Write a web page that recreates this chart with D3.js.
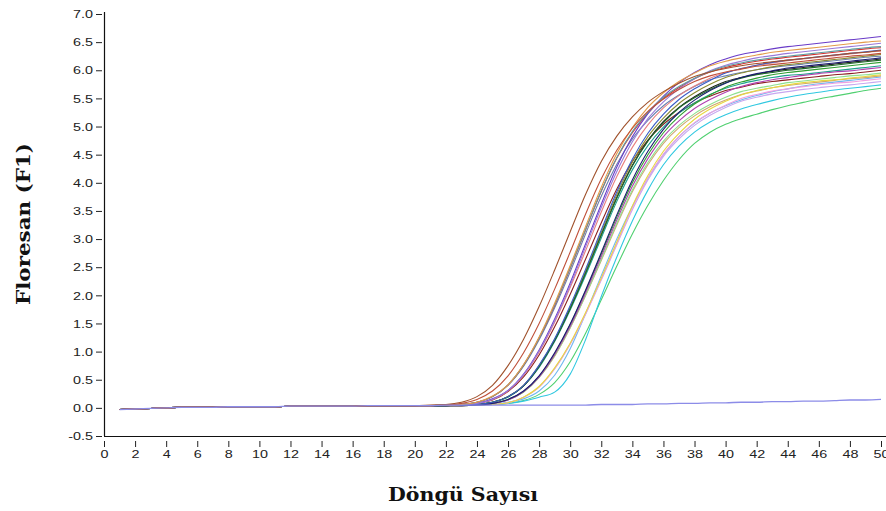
<!DOCTYPE html>
<html>
<head>
<meta charset="utf-8">
<script src="https://cdn.jsdelivr.net/npm/d3@7"></script>
<style>
  html, body { margin: 0; padding: 0; background: #fff; }
  svg { display: block; }
</style>
</head>
<body>
<svg id="chart" width="886" height="511"></svg>
<script>
// Real-time PCR amplification curves: fluorescence (F1) per cycle, cycles 1–50.

// Cycle numbers and axis ticks
const cycles = d3.range(1, 51);
const xTicks = [0, 2, 4, 6, 8, 10, 12, 14, 16, 18, 20, 22, 24, 26, 28, 30, 32, 34, 36, 38, 40, 42, 44, 46, 48, 50];
const yTicks = [-0.5, 0.0, 0.5, 1.0, 1.5, 2.0, 2.5, 3.0, 3.5, 4.0, 4.5, 5.0, 5.5, 6.0, 6.5, 7.0];

// Shared baseline readings, cycles 1–19 (all wells overlap here)
const baseline = [-0.03, -0.02, -0.01, 0.00, 0.01, 0.01, 0.01, 0.02, 0.02, 0.02, 0.02, 0.03, 0.03, 0.03, 0.03, 0.03, 0.04, 0.04, 0.04];

// Per-well readings, cycles 20–50
const s01 = [0.04,0.05,0.06,0.10,0.20,0.40,0.75,1.22,1.80,2.45,3.13,3.80,4.38,4.83,5.17,5.43,5.62,5.77,5.89,5.97,6.03,6.08,6.12,6.15,6.18,6.21,6.24,6.27,6.30,6.32,6.35];
const s02 = [0.04,0.04,0.05,0.08,0.15,0.30,0.57,0.98,1.50,2.11,2.77,3.45,4.07,4.58,4.97,5.27,5.49,5.66,5.80,5.90,5.97,6.02,6.07,6.10,6.13,6.16,6.19,6.22,6.25,6.27,6.30];
const s03 = [0.04,0.04,0.05,0.06,0.10,0.21,0.41,0.77,1.26,1.86,2.53,3.23,3.92,4.52,4.98,5.34,5.60,5.80,5.95,6.08,6.16,6.22,6.27,6.32,6.35,6.38,6.41,6.44,6.47,6.50,6.52];
const s04 = [0.04,0.04,0.05,0.06,0.10,0.20,0.41,0.76,1.24,1.83,2.49,3.18,3.86,4.45,4.91,5.25,5.52,5.71,5.86,5.98,6.07,6.13,6.18,6.22,6.25,6.28,6.31,6.34,6.37,6.40,6.42];
const s05 = [0.04,0.04,0.05,0.06,0.08,0.15,0.31,0.59,1.01,1.55,2.18,2.87,3.56,4.20,4.73,5.14,5.44,5.67,5.85,5.99,6.09,6.16,6.22,6.26,6.30,6.33,6.36,6.39,6.42,6.45,6.48];
const s06 = [0.04,0.04,0.05,0.06,0.08,0.16,0.31,0.60,1.03,1.58,2.22,2.92,3.62,4.28,4.82,5.23,5.54,5.78,5.96,6.10,6.20,6.28,6.33,6.38,6.42,6.45,6.48,6.51,6.54,6.57,6.60];
const s07 = [0.04,0.04,0.04,0.05,0.06,0.10,0.20,0.40,0.76,1.23,1.82,2.47,3.16,3.84,4.42,4.88,5.22,5.48,5.67,5.82,5.95,6.03,6.09,6.14,6.18,6.21,6.24,6.27,6.30,6.33,6.36];
const s08 = [0.04,0.04,0.04,0.04,0.05,0.08,0.15,0.30,0.57,0.98,1.49,2.10,2.76,3.43,4.05,4.56,4.95,5.25,5.47,5.64,5.77,5.87,5.94,5.99,6.04,6.07,6.10,6.13,6.16,6.19,6.22];
const s09 = [0.04,0.04,0.05,0.06,0.08,0.15,0.30,0.58,0.99,1.52,2.14,2.80,3.48,4.11,4.63,5.03,5.33,5.55,5.72,5.86,5.96,6.03,6.09,6.13,6.17,6.20,6.23,6.26,6.29,6.32,6.34];
const s10 = [0.04,0.04,0.04,0.05,0.06,0.10,0.20,0.39,0.74,1.20,1.77,2.40,3.07,3.73,4.30,4.74,5.07,5.33,5.51,5.66,5.78,5.86,5.92,5.96,6.00,6.03,6.06,6.09,6.12,6.15,6.18];
const s11 = [0.04,0.04,0.04,0.05,0.06,0.10,0.20,0.40,0.75,1.22,1.79,2.44,3.12,3.79,4.37,4.82,5.15,5.41,5.60,5.75,5.87,5.95,6.01,6.06,6.10,6.13,6.16,6.19,6.22,6.25,6.28];
const s12 = [0.04,0.04,0.04,0.04,0.05,0.08,0.14,0.29,0.55,0.95,1.45,2.05,2.69,3.34,3.94,4.43,4.82,5.10,5.32,5.48,5.61,5.71,5.78,5.83,5.87,5.91,5.94,5.97,5.99,6.02,6.05];
const s13 = [0.04,0.04,0.04,0.05,0.06,0.10,0.20,0.39,0.74,1.20,1.77,2.41,3.08,3.74,4.31,4.75,5.09,5.34,5.53,5.68,5.80,5.87,5.93,5.98,6.02,6.05,6.08,6.11,6.14,6.17,6.20];
const s14 = [0.04,0.04,0.04,0.04,0.05,0.08,0.15,0.29,0.56,0.96,1.48,2.08,2.73,3.39,4.00,4.50,4.89,5.18,5.40,5.56,5.70,5.79,5.86,5.92,5.96,5.99,6.02,6.05,6.08,6.11,6.14];
const s15 = [0.04,0.04,0.05,0.06,0.10,0.20,0.41,0.76,1.24,1.82,2.48,3.17,3.85,4.44,4.89,5.24,5.50,5.69,5.85,5.97,6.05,6.11,6.16,6.20,6.23,6.26,6.29,6.32,6.35,6.38,6.40];
const s16 = [0.04,0.04,0.05,0.06,0.10,0.20,0.40,0.74,1.21,1.78,2.42,3.10,3.76,4.33,4.78,5.11,5.37,5.56,5.71,5.83,5.90,5.96,6.01,6.05,6.08,6.11,6.14,6.17,6.20,6.23,6.25];
const s17 = [0.04,0.04,0.04,0.04,0.05,0.08,0.14,0.28,0.54,0.93,1.43,2.01,2.64,3.28,3.87,4.36,4.74,5.02,5.23,5.39,5.52,5.62,5.68,5.73,5.78,5.81,5.84,5.87,5.90,5.92,5.95];
const s18 = [0.04,0.04,0.04,0.04,0.05,0.06,0.09,0.19,0.38,0.71,1.15,1.70,2.31,2.95,3.59,4.13,4.56,4.88,5.13,5.31,5.45,5.56,5.64,5.69,5.74,5.78,5.81,5.83,5.86,5.89,5.92];
const s19 = [0.04,0.04,0.04,0.04,0.05,0.08,0.14,0.28,0.54,0.92,1.42,2.00,2.62,3.25,3.84,4.32,4.70,4.98,5.19,5.35,5.47,5.57,5.63,5.69,5.73,5.76,5.79,5.82,5.85,5.87,5.90];
const s20 = [0.04,0.04,0.04,0.04,0.05,0.06,0.09,0.19,0.37,0.70,1.14,1.68,2.29,2.92,3.55,4.09,4.51,4.82,5.07,5.24,5.38,5.50,5.57,5.63,5.67,5.71,5.74,5.77,5.79,5.82,5.85];
const s21 = [0.04,0.04,0.04,0.04,0.05,0.06,0.09,0.19,0.37,0.69,1.13,1.67,2.27,2.90,3.52,4.05,4.47,4.78,5.02,5.20,5.34,5.45,5.52,5.58,5.62,5.66,5.69,5.72,5.74,5.77,5.80];
const s22 = [0.04,0.04,0.04,0.05,0.05,0.06,0.08,0.12,0.19,0.28,0.60,1.22,1.98,2.68,3.32,3.87,4.32,4.65,4.90,5.08,5.21,5.31,5.39,5.46,5.52,5.57,5.61,5.65,5.68,5.71,5.74];
const s23 = [0.04,0.04,0.04,0.05,0.05,0.07,0.10,0.16,0.30,0.58,1.05,1.68,2.35,3.00,3.58,4.08,4.50,4.82,5.06,5.24,5.37,5.47,5.55,5.62,5.67,5.72,5.76,5.79,5.82,5.85,5.88];
const s24 = [0.04,0.04,0.04,0.05,0.05,0.06,0.08,0.13,0.24,0.45,0.82,1.33,1.92,2.52,3.09,3.60,4.04,4.41,4.70,4.90,5.04,5.14,5.22,5.30,5.37,5.43,5.49,5.54,5.59,5.64,5.68];
const s25 = [0.04,0.04,0.04,0.05,0.06,0.10,0.19,0.39,0.72,1.18,1.74,2.36,3.02,3.67,4.23,4.66,4.99,5.24,5.42,5.57,5.68,5.76,5.82,5.87,5.91,5.93,5.96,5.99,6.02,6.05,6.08];
const s26 = [0.04,0.04,0.04,0.05,0.08,0.14,0.29,0.55,0.94,1.44,2.02,2.65,3.29,3.89,4.38,4.76,5.04,5.25,5.42,5.54,5.64,5.70,5.76,5.80,5.83,5.86,5.89,5.92,5.94,5.97,6.00];

// Negative control, cycles 20–50
const ncRise = [0.04,0.04,0.05,0.05,0.05,0.05,0.05,0.05,0.05,0.05,0.05,0.05,0.06,0.06,0.06,0.07,0.07,0.08,0.08,0.09,0.09,0.10,0.10,0.11,0.11,0.12,0.12,0.13,0.14,0.14,0.15];

// Well colours (same order as the wells list)
const palette = [
  "#a0522d", "#c0503a", "#e39b4a", "#5f9ea0", "#9a7ad8", "#6a3cc8", "#3a5cc8",
  "#1c1c70", "#e88080", "#1f6b2a", "#8a8a30", "#b040b0", "#202020", "#30a030",
  "#d83030", "#6a80b0", "#8ee08e", "#e8d840", "#d0a870", "#f0a0e0", "#c8a8f0",
  "#30c8e0", "#70b8f0", "#50d070", "#20a090", "#8b2020"
];
const ncColor = "#8c8ce8";

const wells = [s01, s02, s03, s04, s05, s06, s07, s08, s09, s10, s11, s12, s13,
               s14, s15, s16, s17, s18, s19, s20, s21, s22, s23, s24, s25, s26];

const series = wells.map((rise, i) => ({ values: baseline.concat(rise), color: palette[i] }));
const negative = { values: baseline.concat(ncRise), color: ncColor };

// ---- drawing ----
const svg = d3.select("#chart");

const x = d3.scaleLinear().domain([0, 50]).range([104, 881]);
const y = d3.scaleLinear().domain([-0.5, 7.0]).range([436, 14]);

const tickFont = "'Liberation Sans', Arial, sans-serif";
const stretch = 1.25;

const line = d3.line()
  .x((d, i) => x(cycles[i]))
  .y(d => y(d))
  .curve(d3.curveMonotoneX);

// curves: latest wells drawn first so the early risers sit on top
const plot = svg.append("g").attr("class", "curves");
plot.selectAll("path.well")
  .data(series.slice().reverse())
  .join("path")
  .attr("class", "well")
  .attr("d", d => line(d.values))
  .attr("fill", "none")
  .attr("stroke", d => d.color)
  .attr("stroke-width", 1.1)
  .attr("stroke-linejoin", "round");

plot.append("path")
  .attr("d", line(negative.values))
  .attr("fill", "none")
  .attr("stroke", negative.color)
  .attr("stroke-width", 1.3);

// Y axis (plain hyphen for the negative label)
const yAxis = svg.append("g")
  .attr("transform", `translate(${x(0)},0)`)
  .call(d3.axisLeft(y).tickValues(yTicks).tickFormat(d => d.toFixed(1)).tickSizeOuter(0).tickSize(7));
yAxis.select(".domain").remove();
yAxis.selectAll(".tick line").attr("x1", -2).attr("x2", -8).attr("stroke", "#222");
yAxis.selectAll(".tick text")
  .attr("x", -11 / stretch)
  .attr("transform", `scale(${stretch},1)`)
  .attr("fill", "#222")
  .style("font-family", tickFont)
  .style("font-size", "11.5px");

// X axis
const xAxis = svg.append("g")
  .attr("transform", `translate(0,${y(-0.5)})`)
  .call(d3.axisBottom(x).tickValues(xTicks).tickFormat(d3.format("d")).tickSizeOuter(0));
xAxis.select(".domain").remove();
xAxis.selectAll(".tick line").attr("y1", 5).attr("y2", 11).attr("stroke", "#222");
xAxis.selectAll(".tick text")
  .attr("y", 22)
  .attr("dy", null)
  .attr("transform", `scale(${stretch},1)`)
  .attr("fill", "#222")
  .style("font-family", tickFont)
  .style("font-size", "11.5px");

// axis lines
svg.append("line")
  .attr("x1", x(0) + 0.5).attr("x2", x(0) + 0.5)
  .attr("y1", y(7.0) - 2).attr("y2", y(-0.5))
  .attr("stroke", "#111").attr("stroke-width", 1.2);
svg.append("line")
  .attr("x1", x(0)).attr("x2", 886)
  .attr("y1", y(-0.5) + 0.5).attr("y2", y(-0.5) + 0.5)
  .attr("stroke", "#111").attr("stroke-width", 1.2);

// Axis titles
const titleFont = "'DejaVu Serif', 'Liberation Serif', serif";
svg.append("text")
  .attr("x", 463).attr("y", 501)
  .attr("text-anchor", "middle")
  .attr("textLength", 150)
  .attr("lengthAdjust", "spacingAndGlyphs")
  .style("font-family", titleFont)
  .style("font-weight", "bold")
  .style("font-size", "18px")
  .attr("fill", "#111")
  .text("Döngü Sayısı");

svg.append("text")
  .attr("transform", "translate(30,224) rotate(-90)")
  .attr("text-anchor", "middle")
  .attr("textLength", 162)
  .attr("lengthAdjust", "spacingAndGlyphs")
  .style("font-family", titleFont)
  .style("font-weight", "bold")
  .style("font-size", "19px")
  .attr("fill", "#111")
  .text("Floresan (F1)");
</script>
</body>
</html>
